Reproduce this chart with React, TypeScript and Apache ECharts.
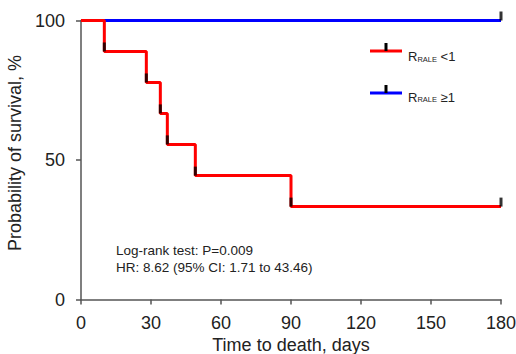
import React, { useEffect, useRef } from "react";
import * as echarts from "echarts";

const xTicks = [0, 30, 60, 90, 120, 150, 180];
// Kaplan–Meier, R_RALE < 1 group
const lowEventTimes = [10, 28, 34, 37, 49, 90];
const lowSurvival = [88.9, 77.8, 66.7, 55.6, 44.4, 33.3];
const lowCensorTimes = [10, 28, 34, 37, 49, 90, 180];
const lowCensorValues = [88.9, 77.8, 66.7, 55.6, 44.4, 33.3, 33.3];
// R_RALE >= 1 group
const highEventTimes: number[] = [];
const highSurvival: number[] = [];
const highCensorTimes = [180];
const highCensorValues = [100];
const endTime = 180;

function stepPoints(times: number[], vals: number[], end: number) {
  const pts: number[][] = [[0, 100]];
  let cur = 100;
  times.forEach((t, i) => {
    pts.push([t, cur]);
    cur = vals[i];
    pts.push([t, cur]);
  });
  pts.push([end, cur]);
  return pts;
}

const FONT = "Liberation Sans, Arial, Helvetica, sans-serif";

export default function App() {
  const ref = useRef<HTMLDivElement>(null);
  useEffect(() => {
    if (!ref.current) return;
    const chart = echarts.init(ref.current, null, { renderer: "svg" });
    const legendText = (sym: string) => ({
      text: `{a|R}{s|RALE}{a| ${sym}}`,
      rich: {
        a: { fontSize: 13, fontFamily: FONT, fill: "#222", verticalAlign: "bottom", lineHeight: 16 },
        s: { fontSize: 7.5, fontFamily: FONT, fill: "#222", verticalAlign: "bottom", lineHeight: 13 },
      },
    });
    chart.setOption({
      animation: false,
      grid: { left: 81, right: 15, top: 20.5, bottom: 54.5, containLabel: false, outerBoundsMode: "none" },
      xAxis: {
        type: "value",
        min: 0,
        max: 180,
        interval: 30,
        name: "Time to death, days",
        nameLocation: "middle",
        nameGap: 36,
        nameTextStyle: { fontSize: 18, fontFamily: FONT, color: "#222" },
        axisLine: { show: true, lineStyle: { color: "#555", width: 1.5 } },
        axisTick: { show: true, length: 5, lineStyle: { color: "#555", width: 1.5 } },
        axisLabel: { fontSize: 18, fontFamily: FONT, color: "#222", margin: 14, customValues: xTicks },
        splitLine: { show: false },
      },
      yAxis: {
        type: "value",
        min: 0,
        max: 100,
        interval: 50,
        name: "Probability of survival, %",
        nameLocation: "middle",
        nameGap: 54,
        nameTextStyle: { fontSize: 18, fontFamily: FONT, color: "#222", padding: [0, 0, 0, 14] },
        axisLine: { show: true, lineStyle: { color: "#555", width: 1.5 } },
        axisTick: { show: true, length: 5, lineStyle: { color: "#555", width: 1.5 } },
        axisLabel: { fontSize: 18, fontFamily: FONT, color: "#222", margin: 16 },
        splitLine: { show: false },
      },
      series: [
        {
          type: "line",
          data: stepPoints(highEventTimes, highSurvival, endTime),
          showSymbol: false,
          lineStyle: { color: "#0000ff", width: 3 },
          z: 2,
        },
        {
          type: "line",
          data: stepPoints(lowEventTimes, lowSurvival, endTime),
          showSymbol: false,
          lineStyle: { color: "#ff0000", width: 3 },
          z: 3,
        },
        {
          type: "scatter",
          data: lowCensorTimes.map((t, i) => [t, lowCensorValues[i]]),
          symbol: "rect",
          symbolSize: [3, 9],
          symbolOffset: [0, -4.5],
          itemStyle: { color: "#000" },
          z: 4,
        },
        {
          type: "scatter",
          data: highCensorTimes.map((t, i) => [t, highCensorValues[i]]),
          symbol: "rect",
          symbolSize: [3, 9],
          symbolOffset: [0, -4.5],
          itemStyle: { color: "#000" },
          z: 4,
        },
      ],
      graphic: [
        { type: "line", shape: { x1: 370, y1: 51, x2: 402, y2: 51 }, style: { stroke: "#ff0000", lineWidth: 3 } },
        { type: "rect", shape: { x: 384.5, y: 43, width: 3, height: 8 }, style: { fill: "#000" } },
        { type: "text", x: 408, y: 47, style: legendText("<1") },
        { type: "line", shape: { x1: 370, y1: 93, x2: 402, y2: 93 }, style: { stroke: "#0000ff", lineWidth: 3 } },
        { type: "rect", shape: { x: 384.5, y: 85, width: 3, height: 8 }, style: { fill: "#000" } },
        { type: "text", x: 408, y: 87.5, style: legendText("\u22651") },
        {
          type: "text",
          x: 116,
          y: 241.5,
          style: {
            text: "Log-rank test: P=0.009\nHR: 8.62 (95% CI: 1.71 to 43.46)",
            fontSize: 13.5,
            lineHeight: 17,
            fontFamily: FONT,
            fill: "#222",
          },
        },
      ],
    });
    return () => chart.dispose();
  }, []);
  return <div ref={ref} style={{ width: 516, height: 354, position: "absolute", left: 0, top: 0 }} />;
}
